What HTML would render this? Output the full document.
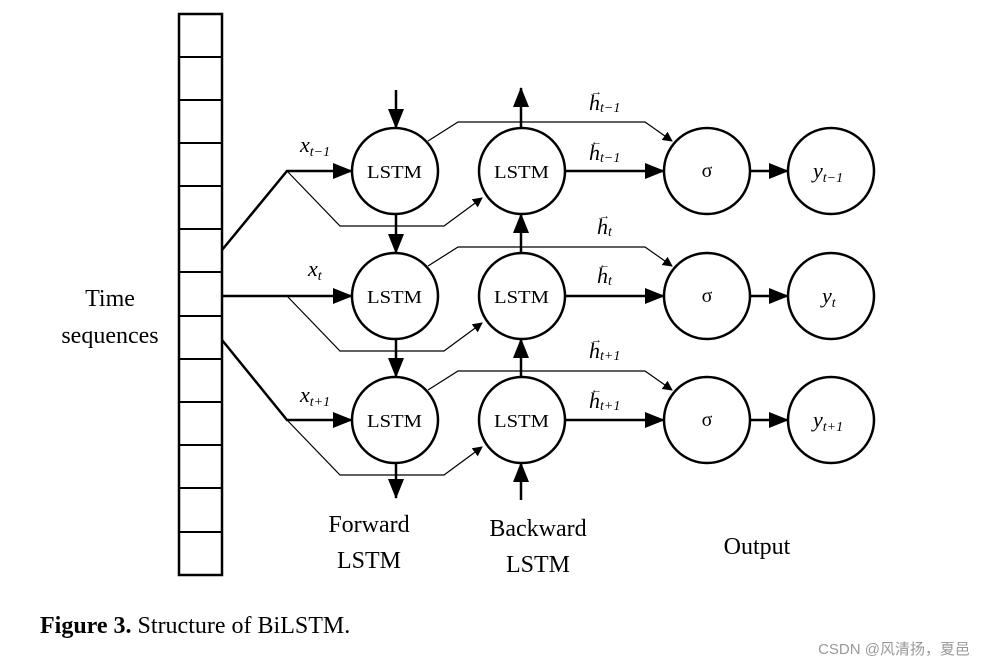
<!DOCTYPE html><html><head><style>body{margin:0;background:#fff}svg{display:block}</style></head><body>
<svg width="986" height="667" xmlns="http://www.w3.org/2000/svg" font-family="Liberation Serif, serif">
<defs><marker id="a" markerWidth="10" markerHeight="10" refX="9" refY="5" orient="auto" markerUnits="userSpaceOnUse"><path d="M0,0L10,5L0,10z" fill="#000"/></marker>
<marker id="b" markerWidth="20" markerHeight="16" refX="19" refY="8" orient="auto" markerUnits="userSpaceOnUse"><path d="M0,0L20,8L0,16z" fill="#000"/></marker></defs>
<g stroke="#000" stroke-width="2.5" fill="none">
<rect x="179" y="14" width="43" height="561"/>
<g stroke-width="2">
<line x1="179" y1="57" x2="222" y2="57"/><line x1="179" y1="100" x2="222" y2="100"/><line x1="179" y1="143" x2="222" y2="143"/><line x1="179" y1="186" x2="222" y2="186"/><line x1="179" y1="229" x2="222" y2="229"/><line x1="179" y1="272" x2="222" y2="272"/><line x1="179" y1="316" x2="222" y2="316"/><line x1="179" y1="359" x2="222" y2="359"/><line x1="179" y1="402" x2="222" y2="402"/><line x1="179" y1="445" x2="222" y2="445"/><line x1="179" y1="488" x2="222" y2="488"/><line x1="179" y1="532" x2="222" y2="532"/></g>
</g>
<g stroke="#000" stroke-width="2.5" fill="#fff">
<circle cx="395" cy="171" r="43"/><circle cx="522" cy="171" r="43"/><circle cx="707" cy="171" r="43"/><circle cx="831" cy="171" r="43"/>
<circle cx="395" cy="296" r="43"/><circle cx="522" cy="296" r="43"/><circle cx="707" cy="296" r="43"/><circle cx="831" cy="296" r="43"/>
<circle cx="395" cy="420" r="43"/><circle cx="522" cy="420" r="43"/><circle cx="707" cy="420" r="43"/><circle cx="831" cy="420" r="43"/>
</g>
<g stroke="#000" stroke-width="2.5" fill="none" marker-end="url(#b)">
<polyline points="222,250 287,171 352,171"/><line x1="222" y1="296" x2="352" y2="296"/><polyline points="222,340 287,420 352,420"/>
<line x1="565" y1="171" x2="664" y2="171"/><line x1="750" y1="171" x2="788" y2="171"/>
<line x1="565" y1="296" x2="664" y2="296"/><line x1="750" y1="296" x2="788" y2="296"/>
<line x1="565" y1="420" x2="664" y2="420"/><line x1="750" y1="420" x2="788" y2="420"/>
<line x1="396" y1="90" x2="396" y2="128"/><line x1="396" y1="214" x2="396" y2="253"/><line x1="396" y1="339" x2="396" y2="377"/><line x1="396" y1="463" x2="396" y2="498"/>
<line x1="521" y1="128" x2="521" y2="88"/><line x1="521" y1="253" x2="521" y2="214"/><line x1="521" y1="377" x2="521" y2="339"/><line x1="521" y1="500" x2="521" y2="463"/>
</g>
<g stroke="#000" stroke-width="1.2" fill="none" marker-end="url(#a)">
<polyline points="287,171 340,226 444,226 482,198"/><polyline points="287,296 340,351 444,351 482,323"/><polyline points="287,420 340,475 444,475 482,447"/>
<polyline points="428,141 458,122 645,122 672,141"/><polyline points="428,266 458,247 645,247 672,266"/><polyline points="428,390 458,371 645,371 672,390"/>
</g>
<g font-size="18">
<text x="367" y="178" textLength="55" lengthAdjust="spacingAndGlyphs">LSTM</text><text x="494" y="178" textLength="55" lengthAdjust="spacingAndGlyphs">LSTM</text>
<text x="367" y="303" textLength="55" lengthAdjust="spacingAndGlyphs">LSTM</text><text x="494" y="303" textLength="55" lengthAdjust="spacingAndGlyphs">LSTM</text>
<text x="367" y="427" textLength="55" lengthAdjust="spacingAndGlyphs">LSTM</text><text x="494" y="427" textLength="55" lengthAdjust="spacingAndGlyphs">LSTM</text>
</g>
<g font-size="20" text-anchor="middle"><text x="707" y="177">σ</text><text x="707" y="302">σ</text><text x="707" y="426">σ</text></g>
<g font-style="italic" font-size="22">
<text x="300" y="152">x<tspan font-size="14" dy="4">t−1</tspan></text>
<text x="308" y="276">x<tspan font-size="14" dy="4">t</tspan></text>
<text x="300" y="402">x<tspan font-size="14" dy="4">t+1</tspan></text>
<text x="813" y="178">y<tspan font-size="14" dy="4">t−1</tspan></text>
<text x="822" y="303">y<tspan font-size="14" dy="4">t</tspan></text>
<text x="813" y="427">y<tspan font-size="14" dy="4">t+1</tspan></text>
<text x="589" y="110">h<tspan font-size="14" dy="2">t−1</tspan></text>
<text x="589" y="160">h<tspan font-size="14" dy="2">t−1</tspan></text>
<text x="597" y="234">h<tspan font-size="14" dy="2">t</tspan></text>
<text x="597" y="283">h<tspan font-size="14" dy="2">t</tspan></text>
<text x="589" y="358">h<tspan font-size="14" dy="2">t+1</tspan></text>
<text x="589" y="408">h<tspan font-size="14" dy="2">t+1</tspan></text>
</g>
<g font-size="11"><text x="591" y="95">→</text><text x="591" y="145">←</text><text x="599" y="219">→</text><text x="599" y="268">←</text><text x="591" y="343">→</text><text x="591" y="393">←</text></g>
<g font-size="24" text-anchor="middle">
<text x="110" y="306">Time</text><text x="110" y="343">sequences</text>
<text x="369" y="532">Forward</text><text x="369" y="568">LSTM</text>
<text x="538" y="536">Backward</text><text x="538" y="572">LSTM</text>
<text x="757" y="554">Output</text>
</g>
<text x="40" y="633" font-size="24"><tspan font-weight="bold">Figure 3.</tspan> Structure of BiLSTM.</text>
<text x="970" y="654" font-size="15" fill="#999" text-anchor="end" font-family="Liberation Sans, Noto Sans CJK SC, sans-serif">CSDN @风清扬，夏邑</text>
</svg></body></html>
